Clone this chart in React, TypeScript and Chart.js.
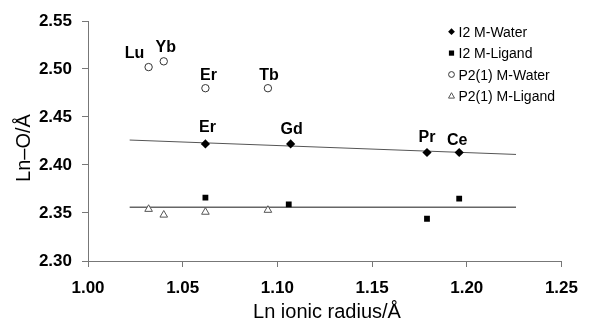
import React, { useEffect, useRef } from "react";
import { Chart, registerables } from "chart.js";
Chart.register(...registerables);

const FONT = "'Liberation Sans', Arial, sans-serif";

const xTicks = [1.0, 1.05, 1.1, 1.15, 1.2, 1.25];
const yTicks = [2.3, 2.35, 2.4, 2.45, 2.5, 2.55];

const seriesNames = ["I2 M-Water", "I2 M-Ligand", "P2(1) M-Water", "P2(1) M-Ligand"];

const i2WaterX = [1.062, 1.107, 1.179, 1.196];
const i2WaterY = [2.422, 2.422, 2.413, 2.413];
const i2WaterLabels = ["Er", "Gd", "Pr", "Ce"];

const i2LigandX = [1.062, 1.106, 1.179, 1.196];
const i2LigandY = [2.366, 2.359, 2.344, 2.365];

const p21WaterX = [1.032, 1.04, 1.062, 1.095];
const p21WaterY = [2.502, 2.508, 2.48, 2.48];
const p21WaterLabels = ["Lu", "Yb", "Er", "Tb"];

const p21LigandX = [1.032, 1.04, 1.062, 1.095];
const p21LigandY = [2.354, 2.348, 2.351, 2.353];

const waterTrendX = [1.022, 1.226];
const waterTrendY = [2.426, 2.411];
const ligandTrendX = [1.022, 1.226];
const ligandTrendY = [2.356, 2.356];

// label placement relative to its point (pixels): [dx, baseline dy]
const i2WaterLabelOffsets = [[2, -11.6], [1, -9.5], [0, -11], [-2, -8]];
const p21WaterLabelOffsets = [[-14, -9.4], [2, -9], [3, -8.3], [1, -8.3]];

const pts = (xs: number[], ys: number[]) => xs.map((x, i) => ({ x, y: ys[i] }));

const overlayPlugin = {
  id: "overlay",
  afterDatasetsDraw(chart: any) {
    const ctx = chart.ctx;
    ctx.save();
    ctx.fillStyle = "#000";
    ctx.font = `bold 16px ${FONT}`;
    ctx.textAlign = "center";
    ctx.textBaseline = "alphabetic";
    const drawLabels = (dsIndex: number, labels: string[], offs: number[][]) => {
      const meta = chart.getDatasetMeta(dsIndex);
      labels.forEach((t, i) => {
        const el = meta.data[i];
        ctx.fillText(t, el.x + offs[i][0], el.y + offs[i][1]);
      });
    };
    drawLabels(0, i2WaterLabels, i2WaterLabelOffsets);
    drawLabels(2, p21WaterLabels, p21WaterLabelOffsets);

    // axis titles
    ctx.font = `20px ${FONT}`;
    ctx.textAlign = "center";
    ctx.fillText("Ln ionic radius/Å", 327, 318);
    ctx.save();
    ctx.translate(30, 148);
    ctx.rotate(-Math.PI / 2);
    ctx.fillText("Ln\u2013O/Å", 0, 0);
    ctx.restore();

    // legend
    const lx = 451.5;
    const ly0 = 31.7;
    const step = 21.4;
    ctx.font = `14px ${FONT}`;
    ctx.textAlign = "left";
    seriesNames.forEach((name, i) => {
      const y = ly0 + step * i;
      ctx.beginPath();
      ctx.lineWidth = 1;
      if (i === 0) {
        ctx.fillStyle = "#000";
        ctx.moveTo(lx, y - 3.4);
        ctx.lineTo(lx + 3.4, y);
        ctx.lineTo(lx, y + 3.4);
        ctx.lineTo(lx - 3.4, y);
        ctx.closePath();
        ctx.fill();
      } else if (i === 1) {
        ctx.fillStyle = "#000";
        ctx.fillRect(lx - 2.6, y - 2.6, 5.2, 5.2);
      } else if (i === 2) {
        ctx.strokeStyle = "#333";
        ctx.arc(lx, y, 2.9, 0, Math.PI * 2);
        ctx.stroke();
      } else {
        ctx.strokeStyle = "#555";
        ctx.moveTo(lx, y - 3.2);
        ctx.lineTo(lx + 3, y + 2.2);
        ctx.lineTo(lx - 3, y + 2.2);
        ctx.closePath();
        ctx.stroke();
      }
      ctx.fillStyle = "#000";
      ctx.fillText(name, lx + 7, y + 5);
    });
    ctx.restore();
  },
};

export default function App() {
  const ref = useRef<HTMLCanvasElement>(null);
  useEffect(() => {
    const axisColor = "#777";
    const chart = new Chart(ref.current!, {
      type: "scatter",
      data: {
        datasets: [
          {
            label: seriesNames[0],
            data: pts(i2WaterX, i2WaterY),
            pointStyle: "rectRot",
            pointRadius: 4.6,
            backgroundColor: "#000",
            borderColor: "#000",
            borderWidth: 0,
          },
          {
            label: seriesNames[1],
            data: pts(i2LigandX, i2LigandY),
            pointStyle: "rect",
            pointRadius: 4.1,
            backgroundColor: "#000",
            borderColor: "#000",
            borderWidth: 0,
          },
          {
            label: seriesNames[2],
            data: pts(p21WaterX, p21WaterY),
            pointStyle: "circle",
            pointRadius: 3.7,
            backgroundColor: "#fff",
            borderColor: "#333",
            borderWidth: 1,
          },
          {
            label: seriesNames[3],
            data: pts(p21LigandX, p21LigandY),
            pointStyle: "triangle",
            pointRadius: 4.4,
            backgroundColor: "#fff",
            borderColor: "#555",
            borderWidth: 1,
          },
          {
            label: "water trend",
            data: pts(waterTrendX, waterTrendY),
            showLine: true,
            pointRadius: 0,
            borderColor: "#555",
            borderWidth: 1,
            order: 10,
          },
          {
            label: "ligand trend",
            data: pts(ligandTrendX, ligandTrendY),
            showLine: true,
            pointRadius: 0,
            borderColor: "#666",
            borderWidth: 1.3,
            order: 10,
          },
        ],
      },
      options: {
        animation: false,
        responsive: false,
        devicePixelRatio: 1,
        layout: { padding: { top: 21, right: 19, left: 0, bottom: 0 } },
        plugins: { legend: { display: false }, tooltip: { enabled: false } },
        scales: {
          x: {
            type: "linear",
            min: 1.0,
            max: 1.25,
            afterBuildTicks: (s: any) => {
              s.ticks = xTicks.map((v) => ({ value: v }));
            },
            afterFit: (s: any) => {
              s.height = 63;
            },
            ticks: {
              callback: (v: any) => Number(v).toFixed(2),
              font: { family: FONT, size: 17, weight: "bold" },
              color: "#000",
              padding: 11,
              maxRotation: 0,
            },
            grid: { drawOnChartArea: false, drawTicks: true, tickLength: 6, color: axisColor },
            border: { color: axisColor, width: 1 },
          },
          y: {
            type: "linear",
            min: 2.3,
            max: 2.55,
            afterBuildTicks: (s: any) => {
              s.ticks = yTicks.map((v) => ({ value: v }));
            },
            afterFit: (s: any) => {
              s.width = 88;
            },
            ticks: {
              callback: (v: any) => Number(v).toFixed(2),
              font: { family: FONT, size: 17, weight: "bold" },
              color: "#000",
              padding: 10,
            },
            grid: { drawOnChartArea: false, drawTicks: true, tickLength: 6, color: axisColor },
            border: { color: axisColor, width: 1 },
          },
        },
      },
      plugins: [overlayPlugin],
    } as any);
    return () => chart.destroy();
  }, []);
  return (
    <div style={{ position: "fixed", left: 0, top: 0, width: 589, height: 324, background: "#fff" }}>
      <canvas ref={ref} width={589} height={324} style={{ width: 589, height: 324 }} />
    </div>
  );
}
